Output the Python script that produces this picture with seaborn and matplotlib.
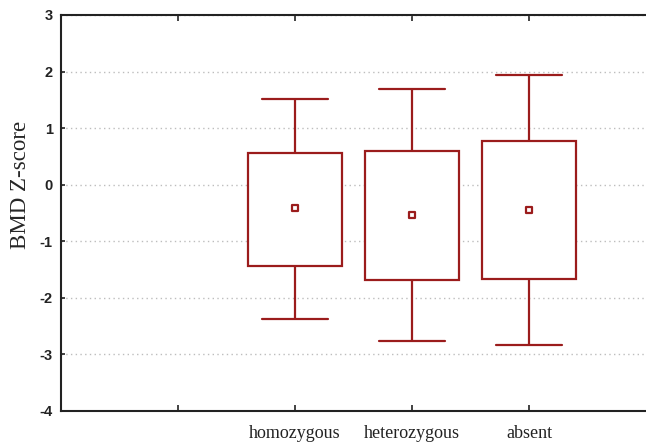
import matplotlib
matplotlib.use("Agg")
import matplotlib.pyplot as plt
import numpy as np
import pandas as pd
import seaborn as sns

# values
groups = ["homozygous", "heterozygous", "absent"]
means = [-0.42, -0.535, -0.45]
box_low = [-1.43, -1.69, -1.66]
box_high = [0.56, 0.60, 0.77]
whisk_low = [-2.38, -2.77, -2.83]
whisk_high = [1.52, 1.69, 1.94]
yticks = [-4, -3, -2, -1, 0, 1, 2, 3]

red = "#9B1C1C"
order = [""] + groups

# five points per group so the box = box_low..box_high and whiskers = min..max
rows = []
for g, lo, q1, m, q3, hi in zip(groups, whisk_low, box_low, means, box_high, whisk_high):
    for v in (lo, q1, m, q3, hi):
        rows.append({"group": g, "z": v})
df = pd.DataFrame(rows)
df_mean = pd.DataFrame({"group": groups, "z": means})

sns.set_style("white")
plt.rcParams["font.family"] = ["Liberation Serif", "DejaVu Serif"]
plt.rcParams["axes.unicode_minus"] = False

fig, ax = plt.subplots(figsize=(6.46, 4.43), dpi=100)
fig.subplots_adjust(left=61 / 646, right=1.0, top=1 - 15 / 443, bottom=1 - 411 / 443)

sns.boxplot(data=df, x="group", y="z", order=order, whis=(0, 100),
            color="white", linecolor=red, saturation=1, linewidth=1.6,
            width=0.81, capwidths=0.56, showfliers=False,
            medianprops={"visible": False}, ax=ax, zorder=3)
sns.stripplot(data=df_mean, x="group", y="z", order=order, jitter=False,
              marker="s", size=4.8, color="white", edgecolor=red,
              linewidth=1.6, ax=ax, zorder=4)

ax.set_xlim(-1, 4)
ax.set_ylim(-4, 3)
ax.set_yticks(yticks)
ax.set_xticks([0, 1, 2, 3])
ax.set_xticklabels(order)
ax.set_xlabel("")
ax.set_ylabel("BMD Z-score", fontsize=16.5)
ax.yaxis.set_label_coords(-0.052, 0.57)

ax.yaxis.grid(True, linestyle=(0, (1.0, 2.4)), color="#bdbdbd", linewidth=1.0)
ax.xaxis.grid(False)
ax.set_axisbelow(True)

for side in ["left", "bottom", "top"]:
    ax.spines[side].set_visible(True)
    ax.spines[side].set_color("#222222")
    ax.spines[side].set_linewidth(1.5)
ax.spines["right"].set_visible(False)

ax.tick_params(axis="x", direction="in", length=4, width=1.2, top=True,
               bottom=True, pad=10, labelsize=13, colors="#222222")
ax.tick_params(axis="y", direction="in", length=3, width=1.2, left=True,
               pad=6, labelsize=10.5, colors="#222222")
for lbl in ax.get_yticklabels():
    lbl.set_family(["Liberation Sans", "DejaVu Sans"])
    lbl.set_weight("bold")

fig.savefig("out.png", dpi=100)
